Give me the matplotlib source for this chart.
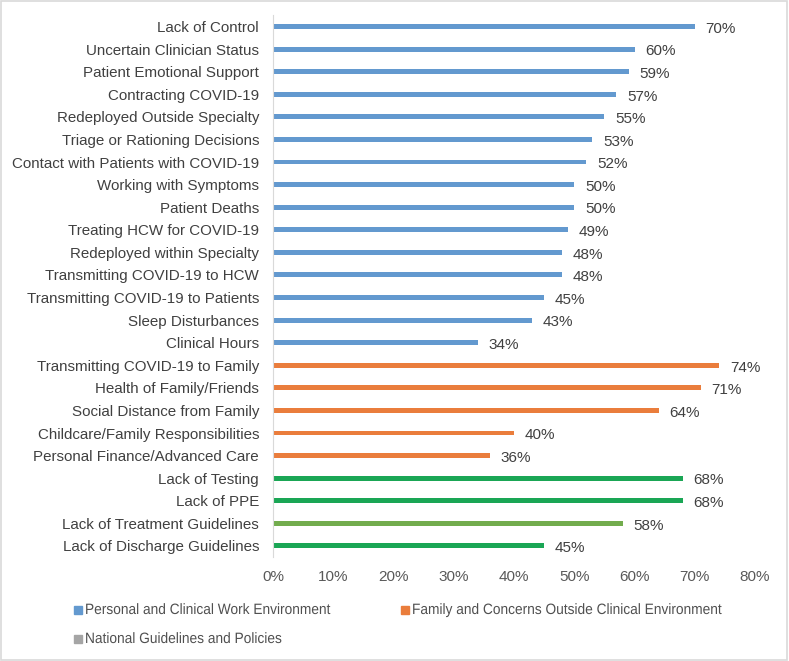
import numpy as np
import matplotlib.pyplot as plt
from matplotlib.patches import Rectangle, PathPatch
from matplotlib.textpath import TextPath
from matplotlib.font_manager import FontProperties
from matplotlib.transforms import Affine2D

# data (top to bottom)
personal = ["Lack of Control", "Uncertain Clinician Status", "Patient Emotional Support",
            "Contracting COVID-19", "Redeployed Outside Specialty", "Triage or Rationing Decisions",
            "Contact with Patients with COVID-19", "Working with Symptoms", "Patient Deaths",
            "Treating HCW for COVID-19", "Redeployed within Specialty", "Transmitting COVID-19 to HCW",
            "Transmitting COVID-19 to Patients", "Sleep Disturbances", "Clinical Hours"]
personal_vals = [70, 60, 59, 57, 55, 53, 52, 50, 50, 49, 48, 48, 45, 43, 34]

family = ["Transmitting COVID-19 to Family", "Health of Family/Friends", "Social Distance from Family",
          "Childcare/Family Responsibilities", "Personal Finance/Advanced Care"]
family_vals = [74, 71, 64, 40, 36]

national = ["Lack of Testing", "Lack of PPE", "Lack of Treatment Guidelines", "Lack of Discharge Guidelines"]
national_vals = [68, 68, 58, 45]
national_colors = ["#1aa655", "#1aa655", "#72ac4d", "#1aa655"]

legend_labels = ["Personal and Clinical Work Environment",
                 "Family and Concerns Outside Clinical Environment",
                 "National Guidelines and Policies"]

BLUE = "#6399cf"
ORANGE = "#ea7d3c"
GRAY = "#a5a5a5"
legend_colors = [BLUE, ORANGE, GRAY]

labels = personal + family + national
vals = personal_vals + family_vals + national_vals
colors = [BLUE] * len(personal) + [ORANGE] * len(family) + national_colors

plt.rcParams['font.family'] = ['Liberation Sans', 'DejaVu Sans']

W, H = 789, 661
fig = plt.figure(figsize=(W / 100, H / 100), dpi=100)
ax = fig.add_axes([0.346, 0.157, 0.611, 0.820])

y = np.arange(len(labels))
ax.barh(y, vals, height=0.22, color=colors)
for yi, v in zip(y, vals):
    ax.text(v + 1.8, yi + 0.1, f"{v}%", va='center', ha='left', fontsize=11, color='#404040')

ax.set_ylim(len(labels) - 0.5, -0.5)
ax.set_xlim(0, 80)
ax.set_yticks(y)
ax.set_yticklabels(labels, fontsize=10.9, color='#404040')
ax.set_xticks(np.arange(0, 81, 10))
ax.set_xticklabels([f"{t}%" for t in range(0, 81, 10)], fontsize=11, color='#595959')
ax.tick_params(axis='both', length=0)
ax.tick_params(axis='y', pad=10)
ax.tick_params(axis='x', pad=9)
for s in ['top', 'right', 'bottom']:
    ax.spines[s].set_visible(False)
ax.spines['left'].set_color('#d9d9d9')

# legend drawn by hand: the original uses a slightly narrower font, so squeeze the glyphs a bit
leg_prop = FontProperties(family='Liberation Sans')
leg_pos = [(74, 614), (401, 614), (74, 643)]   # pixel x of marker, baseline y from top
for (px, py), txt, c in zip(leg_pos, legend_labels, legend_colors):
    fig.patches.append(Rectangle((px / W, (H - py) / H), 8 / W, 8 / H,
                                 transform=fig.transFigure, color=c))
    tp = TextPath((0, 0), txt, size=15, prop=leg_prop)
    tr = Affine2D().scale(0.915 / W, 1 / H).translate((px + 11) / W, (H - py) / H) + fig.transFigure
    fig.patches.append(PathPatch(tp, transform=tr, facecolor='#505050', edgecolor='none'))

fig.patches.append(Rectangle((0.001, 0.001), 0.997, 0.997, transform=fig.transFigure,
                             fill=False, edgecolor='#d9d9d9', linewidth=1.2))

fig.savefig("out.png", dpi=100)
